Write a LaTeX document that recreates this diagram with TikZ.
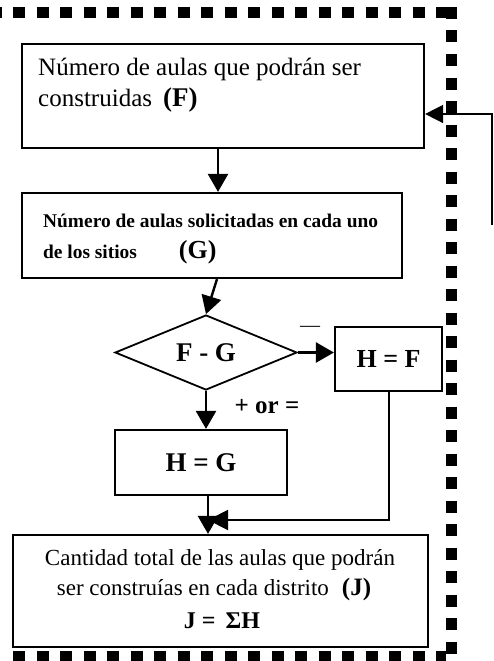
\documentclass[tikz,border=0pt]{standalone}
\usepackage{fontspec}
\setmainfont{Liberation Serif}
\usetikzlibrary{arrows.meta,shapes.geometric,calc}
\begin{document}
\begin{tikzpicture}[x=1pt,y=-1pt,
  box/.style={draw,line width=2.2pt,rectangle,inner sep=0pt},
  txt/.style={inner sep=0pt,anchor=base west},
  ctxt/.style={inner sep=0pt,anchor=base},
  arr/.style={line width=2.4pt,-{Triangle[length=18pt,width=20pt]}},
  thinarr/.style={line width=1.5pt,-{Triangle[length=18pt,width=18pt]}},
  border/.style={line width=11pt,dash pattern=on 12pt off 11.5pt}]
\useasboundingbox (0,0) rectangle (493,661);
% dotted frame
\draw[border] (-10.5,13) -- (455,13);
\draw[border] (451,7) -- (451,661);
\draw[border] (13,656) -- (446,656);
% boxes
\node[box,minimum width=402pt,minimum height=104pt] (fbox) at (223,96) {};
\node[txt,font=\fontsize{25}{30}\selectfont] (f1) at (38,76) {Número de aulas que podrán ser};
\node[txt,font=\fontsize{25}{30}\selectfont] (f2) at (38,106) {construidas\hspace{11pt}{\fontsize{27}{30}\selectfont\bfseries(F)}};
\node[box,minimum width=380pt,minimum height=85pt] (gbox) at (212,235.5) {};
\node[txt,font=\fontsize{19.4}{24}\selectfont\bfseries] (g1) at (43,227) {Número de aulas solicitadas en cada uno};
\node[txt,font=\fontsize{19.4}{24}\selectfont\bfseries] (g2) at (43,258) {de los sitios\hspace{42pt}{\fontsize{26}{30}\selectfont(G)}};
\node[diamond,draw,line width=1.8pt,minimum width=182pt,minimum height=75pt,aspect=2.4,inner sep=0pt,font=\fontsize{27}{30}\selectfont\bfseries] (dg) at (206,352.5) {F - G};
\node[box,minimum width=107pt,minimum height=64pt,font=\fontsize{26}{30}\selectfont\bfseries] (hf) at (388.5,359) {H = F};
\node[box,minimum width=172pt,minimum height=65pt,font=\fontsize{27}{30}\selectfont\bfseries] (hg) at (201,462.5) {H = G};
\node[box,minimum width=415pt,minimum height=112pt] (jbox) at (220.5,591) {};
\node[ctxt,font=\fontsize{23}{28}\selectfont] (j1) at (220,565) {Cantidad total de las aulas que podrán};
\node[ctxt,font=\fontsize{23}{28}\selectfont] (j2) at (214,595) {ser construías en cada distrito\hspace{13pt}{\fontsize{25}{30}\selectfont\bfseries(J)}};
\node[ctxt,font=\fontsize{24}{28}\selectfont\bfseries] (j3) at (222,628) {J =\hspace{10pt}ΣH};
% labels
\node[inner sep=0pt,font=\fontsize{20}{24}\selectfont] (minus) at (310,329) {—};
\node[ctxt,font=\fontsize{25}{30}\selectfont\bfseries] (plus) at (267,413) {+ or =};
% connectors
\draw[arr] ([xshift=-5pt]fbox.south) -- ([xshift=-5pt]fbox.south |- gbox.north);
\draw[arr] ([xshift=5pt]gbox.south) -- (dg.north);
\draw[arr] (dg.east) -- (dg.east -| hf.west);
\draw[arr] (dg.south) -- (dg.south |- hg.north);
\coordinate (meet) at (208,520);
\draw[arr] (meet |- hg.south) -- (meet |- jbox.north);
\draw[line width=2pt,-{Triangle[length=20pt,width=20pt]}] (hf.south) |- (meet);
\coordinate (fb) at (492,225);
\draw[thinarr] (fb) |- ([yshift=-18pt]fbox.east);
\end{tikzpicture}
\end{document}
